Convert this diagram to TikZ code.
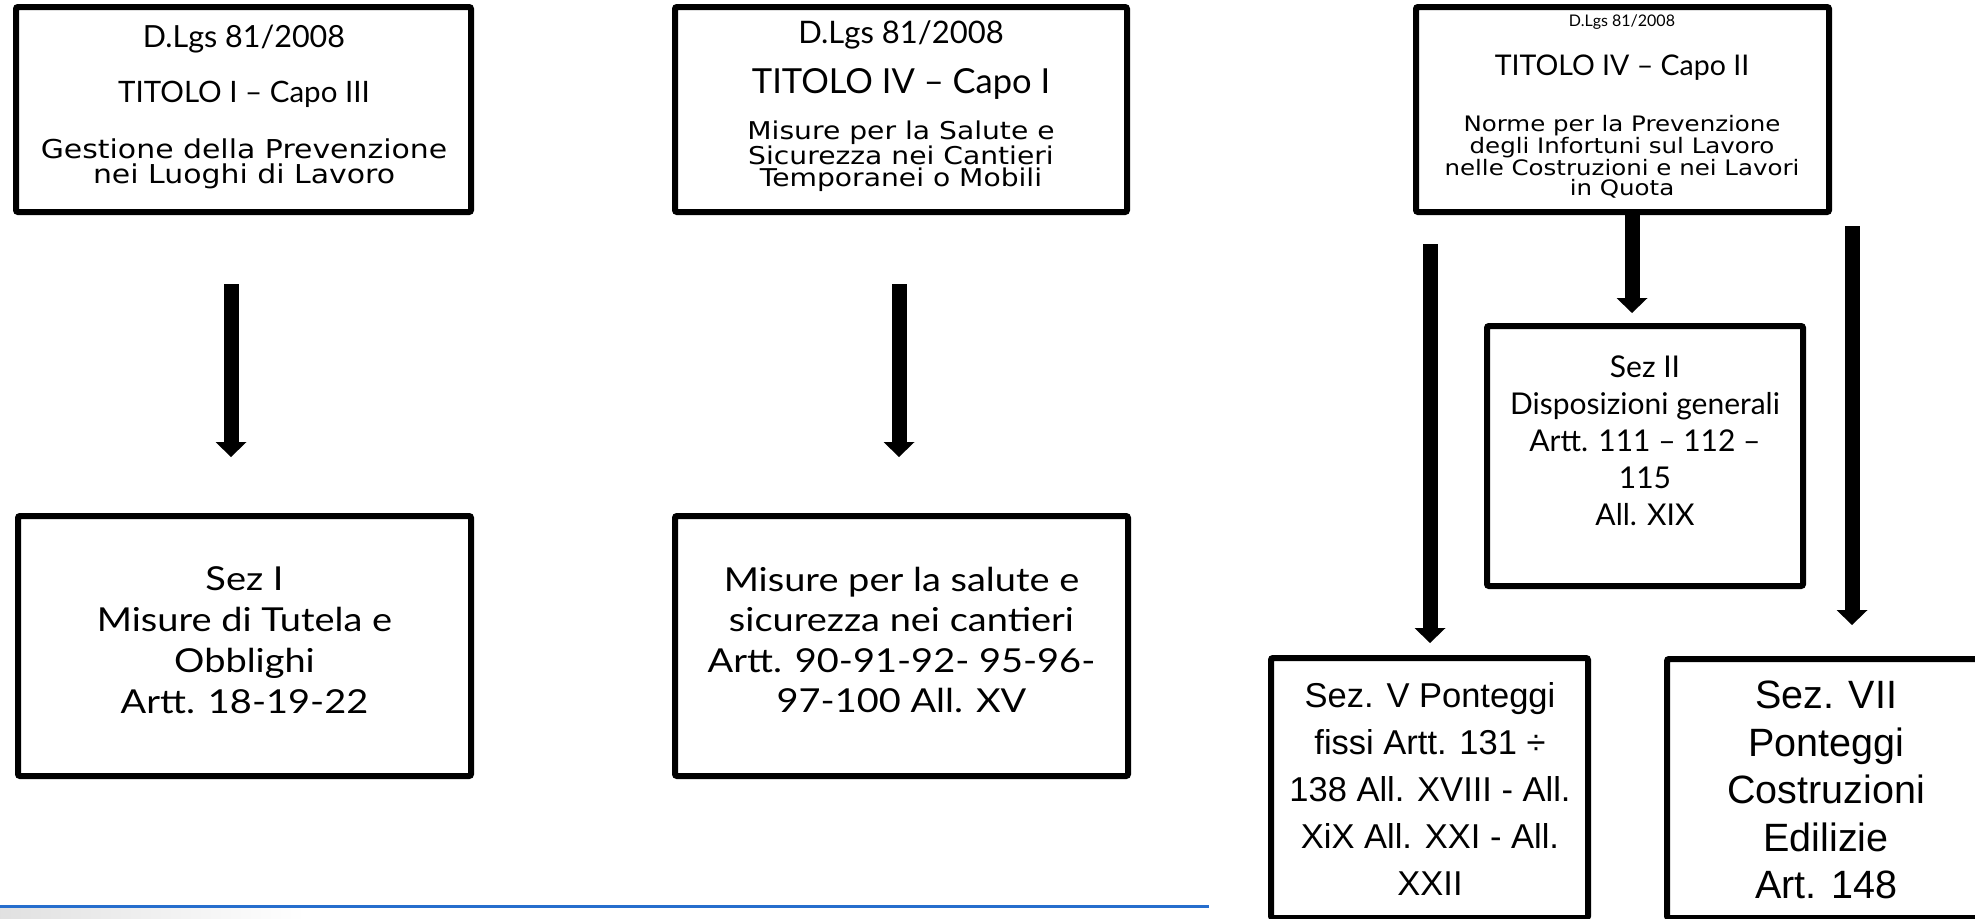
\documentclass[tikz,border=0pt]{standalone}
\usepackage{fontspec}
\setmainfont{Lato}
\newfontfamily\gill{Lato}
\newfontfamily\gillw[FakeStretch=1.15]{Lato}
\newfontfamily\verd[FakeStretch=1.15]{DejaVu Sans}
\newfontfamily\arial{Liberation Sans}
\usetikzlibrary{arrows.meta}
\definecolor{bluline}{RGB}{38,110,205}
\newcommand{\fs}[2]{\fontsize{#1}{#2}\selectfont}
\begin{document}
\begin{tikzpicture}[x=1pt,y=-1pt,
  box/.style={draw=black, line width=6pt, rounded corners=2pt, fill=white, inner sep=0pt},
  bigarrow/.style={line width=15pt, -{Triangle[width=31pt,length=15pt,line width=0pt]}},
  txt/.style={inner sep=0pt, align=center, text=black}]
\useasboundingbox (0,0) rectangle (1975,918);
% boxes
\node[box, minimum width=455pt, minimum height=205pt] (b1) at (243.5,109.5) {};
\node[box, minimum width=452pt, minimum height=205pt] (b2) at (901,109.5) {};
\node[box, minimum width=413pt, minimum height=205pt] (b3) at (1622.5,109.5) {};
\node[box, minimum width=453pt, minimum height=260pt] (b4) at (244.5,646) {};
\node[box, minimum width=453pt, minimum height=260pt] (b5) at (901.5,646) {};
\node[box, minimum width=316pt, minimum height=260pt] (s2) at (1645,456) {};
\node[box, minimum width=317pt, minimum height=260pt] (s5) at (1429.5,788) {};
\node[box, minimum width=323pt, minimum height=259pt] (s7) at (1828.5,788.5) {};
% texts box 1
\node[txt, font=\gill\fs{30.5}{30.5}] (b1a) at (244,39) {D.Lgs 81/2008};
\node[txt, font=\gill\fs{29.5}{29.5}] (b1b) at (244,94) {TITOLO I – Capo III};
\node[txt, font=\verd\fs{26}{25}] (b1c) at (244,164) {Gestione della Prevenzione\\nei Luoghi di Lavoro};
% texts box 2
\node[txt, font=\gill\fs{31}{31}] (b2a) at (901,35) {D.Lgs 81/2008};
\node[txt, font=\gill\fs{34.5}{34.5}] (b2b) at (901,84) {TITOLO IV – Capo I};
\node[txt, font=\verd\fs{24.5}{22}] (b2c) at (901,156) {Misure per la Salute e\\Sicurezza nei Cantieri\\Temporanei o Mobili};
% texts box 3
\node[txt, font=\gill\fs{16}{16}] (b3a) at (1622,22) {D.Lgs 81/2008};
\node[txt, font=\gill\fs{28.5}{28.5}] (b3b) at (1622,68) {TITOLO IV – Capo II};
\node[txt, font=\verd\fs{21.3}{20.5}] (b3c) at (1622,157) {Norme per la Prevenzione\\degli Infortuni sul Lavoro\\nelle Costruzioni e nei Lavori\\in Quota};
% bottom boxes
\node[txt, font=\gillw\fs{33}{41}] (b4t) at (244.5,640) {Sez I\\Misure di Tutela e\\Obblighi\\Artt. 18-19-22};
\node[txt, font=\gillw\fs{33}{40.5}] (b5t) at (901.5,640) {Misure per la salute e\\sicurezza nei cantieri\\Artt. 90-91-92- 95-96-\\97-100 All. XV};
\node[txt, font=\gill\fs{30}{37}] (s2t) at (1645,441) {Sez II\\Disposizioni generali\\Artt. 111 – 112 –\\115\\All. XIX};
\node[txt, font=\arial\fs{34.5}{47}] (s5t) at (1430,789) {Sez. V Ponteggi\\fissi Artt. 131 ÷\\138 All. XVIII - All.\\XiX All. XXI - All.\\XXII};
\node[txt, font=\arial\fs{39.5}{47.5}] (s7t) at (1826,790) {Sez. VII\\Ponteggi\\Costruzioni\\Edilizie\\Art. 148};
% arrows
\coordinate (a1s) at (231,284); \coordinate (a1e) at (231,457);
\coordinate (a2s) at (899,284); \coordinate (a2e) at (899,457);
\coordinate (a3ls) at (1430,244); \coordinate (a3le) at (1430,643);
\coordinate (a3m) at (1632,313);
\coordinate (a3rs) at (1852,226); \coordinate (a3re) at (1852,625);
\draw[bigarrow] (a1s) -- (a1e);
\draw[bigarrow] (a2s) -- (a2e);
\draw[bigarrow] (a3ls) -- (a3le);
\draw[bigarrow] (b3.south -| a3m) -- (a3m);
\draw[bigarrow] (a3rs) -- (a3re);
% footer line
\shade[left color=black!12, right color=white] (0,908) rectangle (305,918);
\draw[bluline, line width=3pt] (0,906) -- (1209,906);
\end{tikzpicture}
\end{document}
